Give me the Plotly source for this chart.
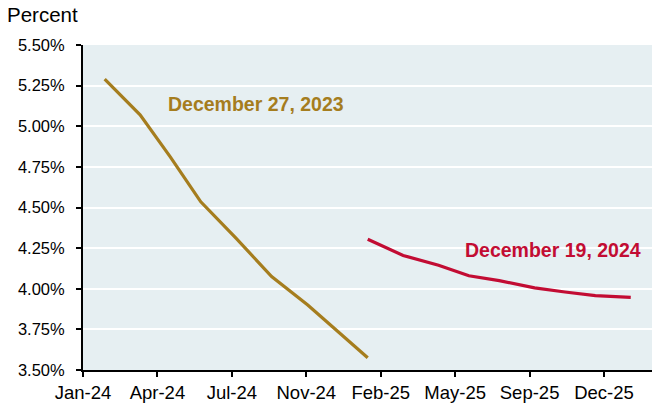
import plotly.graph_objects as go
from datetime import datetime, timedelta

# FOMC meeting dates and market-implied policy rate (percent)
dates_2023 = ["2024-01-31", "2024-03-20", "2024-05-01", "2024-06-12", "2024-07-31",
              "2024-09-18", "2024-11-07", "2024-12-18", "2025-01-29"]
rates_2023 = [5.29, 5.07, 4.81, 4.535, 4.31, 4.075, 3.90, 3.74, 3.575]

dates_2024 = ["2025-01-29", "2025-03-19", "2025-05-07", "2025-06-18", "2025-07-30",
              "2025-09-17", "2025-10-29", "2025-12-10", "2026-01-28"]
rates_2024 = [4.305, 4.205, 4.145, 4.08, 4.05, 4.005, 3.98, 3.958, 3.947]

label_2023 = "December 27, 2023"
label_2024 = "December 19, 2024"

tick_labels = ["Jan-24", "Apr-24", "Jul-24", "Nov-24", "Feb-25", "May-25", "Sep-25", "Dec-25"]

GOLD = "#A57D1E"
RED = "#C20C33"
BG = "#E6EFF2"
FONT = "Liberation Sans, Arial, sans-serif"

axis_start = datetime(2024, 1, 1)
tick_step_days = 103
tick_vals = [axis_start + timedelta(days=tick_step_days * i) for i in range(len(tick_labels))]
axis_end = axis_start + timedelta(days=787.4)

fig = go.Figure()
fig.add_trace(go.Scatter(x=dates_2023, y=rates_2023, mode="lines",
                         line=dict(color=GOLD, width=3.2), name=label_2023, showlegend=False))
fig.add_trace(go.Scatter(x=dates_2024, y=rates_2024, mode="lines",
                         line=dict(color=RED, width=3.2), name=label_2024, showlegend=False))

fig.add_annotation(x="2024-08-27", y=5.135, xref="x", yref="y", text="<b>" + label_2023 + "</b>",
                   showarrow=False, font=dict(color=GOLD, size=19.5, family=FONT))
fig.add_annotation(x="2025-10-13", y=4.239, xref="x", yref="y", text="<b>" + label_2024 + "</b>",
                   showarrow=False, font=dict(color=RED, size=19.5, family=FONT))

plot_w = 652 - 83
plot_h = 407 - 45 - 37
fig.add_annotation(x=(5 - 83) / plot_w, y=1 + (45 - 15) / plot_h, xref="paper", yref="paper",
                   text="Percent", showarrow=False, xanchor="left", yanchor="middle",
                   font=dict(color="black", size=20.5, family=FONT))

fig.update_layout(
    width=652, height=407,
    margin=dict(l=83, r=0, t=45, b=37),
    plot_bgcolor=BG, paper_bgcolor="white",
    font=dict(family=FONT, size=16, color="black"),
)
fig.update_xaxes(
    type="date", range=[axis_start, axis_end],
    tickvals=tick_vals, ticktext=tick_labels,
    showgrid=False, zeroline=False,
    showline=True, linecolor="black", linewidth=2,
    ticks="outside", ticklen=5, tickwidth=1.5, tickcolor="black",
    tickfont=dict(size=18.5),
)
fig.update_yaxes(
    range=[3.5, 5.5], dtick=0.25, tick0=3.5, tickformat=".2f", ticksuffix="%",
    showgrid=True, gridcolor="white", gridwidth=2, zeroline=False,
    showline=True, linecolor="black", linewidth=2,
    ticks="outside", ticklen=5, tickwidth=1.5, tickcolor="black",
    ticklabelstandoff=8,
    tickfont=dict(size=16.5),
)
fig.write_html("out.html",
               config={"displayModeBar": False},
               post_script="document.body.style.margin='0';document.body.style.overflow='hidden';")
